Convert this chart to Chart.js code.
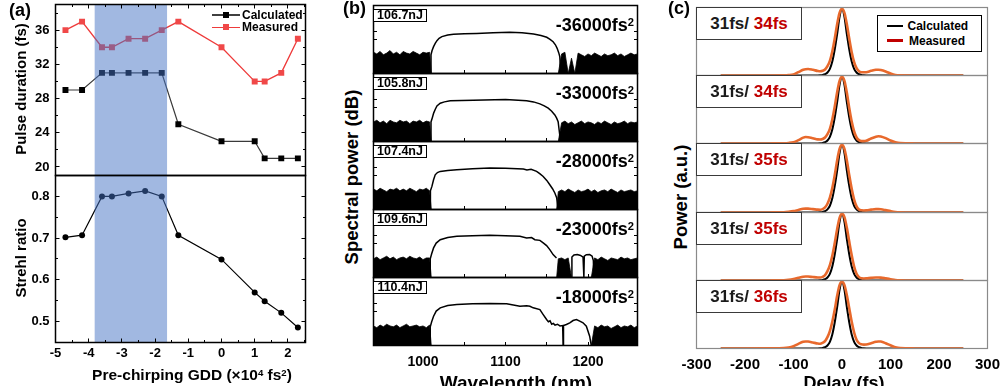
<!DOCTYPE html>
<html>
<head>
<meta charset="utf-8">
<script src="https://cdn.jsdelivr.net/npm/chart.js@4.4.1/dist/chart.umd.min.js"></script>
<style>
html,body{margin:0;padding:0;background:#fff;}
#fig{position:relative;width:1000px;height:386px;overflow:hidden;background:#fff;font-family:"Liberation Sans",Arial,sans-serif;font-weight:bold;color:#000;}
#fig canvas{position:absolute;}
.t{position:absolute;white-space:nowrap;line-height:1;}
.sup{position:relative;top:-0.45em;font-size:0.62em;}
.box{position:absolute;box-sizing:border-box;background:#fff;display:flex;align-items:center;justify-content:center;white-space:nowrap;line-height:1;}
.sw{position:absolute;}
</style>
</head>
<body>
<div id="fig"></div>
<script>
// ================= DATA =================
// ---- Panel (a): pulse duration & Strehl ratio vs pre-chirping GDD (x10^4 fs^2)
const gddValues          = [-4.7, -4.2, -3.6, -3.3, -2.8, -2.3, -1.8, -1.3, 0, 1.0, 1.3, 1.8, 2.3];
const calculatedDuration = [29, 29, 31, 31, 31, 31, 31, 25, 23, 23, 21, 21, 21];
const measuredDuration   = [36, 37, 34, 34, 35, 35, 36, 37, 34, 30, 30, 31, 35];
const strehlRatio        = [0.702, 0.707, 0.800, 0.800, 0.807, 0.813, 0.800, 0.707, 0.649, 0.570, 0.549, 0.521, 0.486];
const gddRange           = [-5, 2.53];
const gddTicks           = [-5, -4, -3, -2, -1, 0, 1, 2];
const gddMinorTicks      = [-4.5, -3.5, -2.5, -1.5, -0.5, 0.5, 1.5, 2.5];
const durationRange      = [19, 39];
const durationTicks      = [20, 24, 28, 32, 36];
const durationMinorTicks = [22, 26, 30, 34, 38];
const strehlRange        = [0.45, 0.85];
const strehlTicks        = [0.5, 0.6, 0.7, 0.8];
const strehlMinorTicks   = [0.55, 0.65, 0.75];
const optimalBand        = [-3.82, -1.64];

// ---- Panel (b): spectra (dB) vs wavelength (nm)
const wavelengthRange      = [940, 1260];
const wavelengthTicks      = [1000, 1100, 1200];
const wavelengthMinorTicks = [950, 1050, 1150, 1250];
const powerRangeDb         = [-80, 0];
const powerTicksDb         = [-40, -30];
const pulseEnergies        = ['106.7nJ', '105.8nJ', '107.4nJ', '109.6nJ', '110.4nJ'];
const gddLabels            = ['-36000', '-33000', '-28000', '-23000', '-18000'];
const noiseGridNm = [940,944,948,952,956,960,964,968,972,976,980,984,988,992,996,1000,1004,1008,1010,1162,1164,1168,1172,1176,1180,1184,1188,1192,1196,1200,1204,1208,1212,1216,1220,1224,1228,1232,1236,1240,1244,1248,1252,1256,1260];
const noise1 = [-55,-57,-54,-58,-56,-53,-57,-55,-58,-54,-56,-57,-54,-56,-58,-55,-56,-55,-80,-80,-80,-57,-55,-80,-62,-80,-56,-58,-60,-57,-59,-56,-58,-60,-57,-59,-58,-56,-59,-57,-60,-58,-56,-58,-57];
const noise2 = [-57,-55,-58,-56,-59,-55,-57,-58,-55,-57,-56,-59,-56,-57,-55,-58,-56,-57,-80,-80,-80,-58,-56,-59,-57,-60,-58,-56,-59,-57,-58,-60,-57,-59,-56,-58,-60,-57,-59,-58,-56,-59,-57,-58,-57];
const noise3 = [-56,-58,-55,-57,-59,-56,-57,-55,-58,-56,-58,-55,-57,-59,-56,-57,-55,-58,-80,-80,-59,-57,-59,-56,-58,-60,-57,-59,-58,-56,-59,-57,-60,-58,-57,-59,-56,-58,-60,-57,-59,-58,-57,-59,-58];
const noise4 = [-58,-56,-59,-57,-55,-58,-56,-59,-57,-56,-58,-55,-57,-58,-56,-59,-57,-57,-80,-80,-58,-57,-59,-57,-80,-80,-80,-80,-80,-80,-80,-57,-59,-56,-58,-60,-57,-58,-59,-56,-58,-57,-59,-58,-57];
const noise5 = [-57,-59,-56,-58,-55,-57,-58,-56,-59,-57,-55,-58,-57,-56,-58,-57,-59,-56,-80,-80,-80,-80,-80,-80,-80,-80,-80,-80,-80,-80,-80,-57,-59,-56,-58,-57,-60,-58,-56,-59,-57,-58,-56,-59,-57];
const spectrum1 = [[1009.7,-80],[1009.7,-58],[1011,-53],[1012.8,-48.4],[1014.8,-44.5],[1016.9,-41.4],[1019.5,-38.6],[1022.9,-36.6],[1030,-34.8],[1037,-33.8],[1050,-33.2],[1065,-32.8],[1085,-32.2],[1105,-31.5],[1120,-32.2],[1134,-33.6],[1143,-35.4],[1150,-37.4],[1154,-39.8],[1157.7,-42.6],[1160.5,-46.2],[1162.6,-50.4],[1164.5,-55.5],[1165.8,-60.2],[1167,-80]];
const spectrum2 = [[1009.7,-80],[1009.7,-57],[1011.3,-52],[1012.9,-46.6],[1014.9,-42],[1016.9,-38.1],[1020.9,-35],[1026,-33.4],[1033,-32],[1061,-31.4],[1100,-30.6],[1125.6,-32],[1134,-33.4],[1141.7,-35.7],[1147,-38],[1151.8,-40.8],[1156,-44.4],[1159.8,-48.8],[1162,-52.5],[1163.8,-56.8],[1166.7,-80]];
const spectrum3 = [[1009,-80],[1009,-58],[1010.8,-52.8],[1012.8,-45],[1014.8,-39.2],[1017.5,-36.5],[1020.9,-35.2],[1030,-34],[1041,-33.3],[1060,-32.2],[1081,-31.2],[1100,-31.4],[1121.6,-32.4],[1126,-33.5],[1131,-32.8],[1137.7,-35.2],[1141.5,-37.8],[1145.7,-41.1],[1150,-45.8],[1153.7,-50.9],[1157,-55.6],[1159.8,-60.6],[1162,-66],[1163.8,-80]];
const spectrum4 = [[1008.8,-80],[1008.8,-58],[1010.5,-52],[1012.8,-45.2],[1016,-39.5],[1020.9,-35.5],[1030,-33],[1041,-31.6],[1060,-30.8],[1081,-30.4],[1100,-30.8],[1117.5,-31.6],[1125.6,-33.5],[1131.6,-33],[1135.6,-35.5],[1141.7,-36.3],[1145.7,-39.3],[1149.8,-42.5],[1153.7,-47.2],[1157.7,-53.1],[1161.8,-57],[1163,null],[1180.5,-80],[1180.5,-56],[1183,-53.5],[1187,-53],[1191,-54],[1194,-56],[1195,-80],[1195.5,-55],[1198,-53.2],[1202,-53],[1205,-55],[1206.5,-60],[1207,-80]];
const spectrum5 = [[1008.8,-80],[1008.8,-58],[1010.5,-52],[1012.8,-45.6],[1016,-39.5],[1020.9,-35.7],[1030,-33],[1041,-31.8],[1060,-31],[1081.3,-30.7],[1101.4,-31],[1117.5,-33.8],[1125.6,-33.3],[1129.6,-33.8],[1133.6,-35.7],[1141.7,-37.7],[1145.7,-43.6],[1149.8,-49.4],[1152,-52],[1154,-51],[1156,-55],[1158,-54],[1160,-56],[1163,-55],[1166,-57],[1169.3,-56.5],[1169.8,-80],[1170.3,-56.5],[1173.8,-55.3],[1177.9,-53.3],[1181.9,-50.6],[1186,-49.4],[1190,-51.4],[1194,-53.3],[1198,-57.3],[1202,-69],[1204,-80]];
const noiseSets    = [noise1, noise2, noise3, noise4, noise5];
const spectrumSets = [spectrum1, spectrum2, spectrum3, spectrum4, spectrum5];

// ---- Panel (c): temporal pulse shapes vs delay (fs)
const delayRange = [-300, 300];
const delayTicks = [-300, -200, -100, 0, 100, 200, 300];
const delayFs = [-250,-200,-150,-120,-110,-100,-90,-80,-75,-70,-60,-50,-45,-40,-35,-30,-25,-20,-15,-10,-5,0,5,10,15,20,25,30,35,40,45,50,60,70,75,80,90,100,110,120,150,200,250];
const calculatedPulse = [0,0,0,0,0,0,0,0,0,0,0,0.001,0.003,0.008,0.02,0.045,0.1,0.21,0.39,0.62,0.88,1,0.88,0.62,0.39,0.21,0.1,0.045,0.02,0.008,0.003,0.001,0,0,0,0,0,0,0,0,0,0,0];
const measuredPulse1 = [0,0,0,0.002,0.006,0.016,0.05,0.085,0.095,0.097,0.085,0.068,0.063,0.07,0.09,0.14,0.22,0.36,0.55,0.77,0.94,1,0.94,0.77,0.55,0.35,0.2,0.11,0.065,0.05,0.048,0.05,0.07,0.086,0.087,0.082,0.06,0.03,0.008,0.002,0,0,0];
const measuredPulse2 = [0,0,0.001,0.003,0.008,0.02,0.05,0.088,0.097,0.095,0.08,0.062,0.06,0.068,0.09,0.14,0.22,0.36,0.55,0.77,0.94,1,0.94,0.76,0.53,0.33,0.18,0.09,0.05,0.036,0.035,0.04,0.075,0.102,0.108,0.105,0.08,0.045,0.018,0.005,0.001,0,0];
const measuredPulse3 = [0,0,0.001,0.004,0.01,0.02,0.038,0.055,0.058,0.057,0.05,0.042,0.04,0.05,0.075,0.13,0.22,0.36,0.55,0.77,0.94,1,0.94,0.77,0.55,0.35,0.19,0.09,0.045,0.032,0.03,0.032,0.042,0.05,0.05,0.048,0.035,0.02,0.008,0.003,0,0,0];
const measuredPulse4 = [0,0,0.001,0.004,0.01,0.022,0.04,0.057,0.06,0.059,0.052,0.046,0.045,0.055,0.08,0.14,0.23,0.37,0.56,0.77,0.94,1,0.95,0.79,0.58,0.38,0.21,0.1,0.05,0.033,0.03,0.032,0.04,0.045,0.045,0.043,0.032,0.02,0.008,0.003,0,0,0];
const measuredPulse5 = [0,0,0.002,0.006,0.015,0.035,0.07,0.1,0.106,0.104,0.09,0.075,0.072,0.085,0.11,0.17,0.26,0.4,0.58,0.79,0.95,1,0.95,0.8,0.6,0.4,0.24,0.13,0.08,0.062,0.058,0.06,0.08,0.1,0.106,0.104,0.08,0.048,0.02,0.006,0.001,0,0];
const measuredPulseSets = [measuredPulse1, measuredPulse2, measuredPulse3, measuredPulse4, measuredPulse5];
const calculatedFs = [31, 31, 31, 31, 31];
const measuredFs   = [34, 34, 35, 35, 36];

// ================= RENDERING =================
const FONT = '"Liberation Sans", Arial, Helvetica, sans-serif';
Chart.defaults.font.family = FONT;
Chart.defaults.font.weight = 'bold';
Chart.defaults.color = '#000';
const fig = document.getElementById('fig');

function makeCanvas(l, t, w, h) {
  const c = document.createElement('canvas');
  c.width = w; c.height = h;
  c.style.left = l + 'px'; c.style.top = t + 'px';
  c.style.width = w + 'px'; c.style.height = h + 'px';
  fig.appendChild(c);
  return c;
}
const crisp = p => Math.round(p - 0.5) + 0.5;

function framePlugin(cfg) {
  return {
    id: 'frameTicks',
    afterDatasetsDraw(chart) {
      const ctx = chart.ctx, a = chart.chartArea, xs = chart.scales.x, ys = chart.scales.y;
      ctx.save();
      if (cfg.band) {
        const x1 = xs.getPixelForValue(cfg.band[0]), x2 = xs.getPixelForValue(cfg.band[1]);
        ctx.fillStyle = cfg.bandColor;
        ctx.fillRect(x1, a.top, x2 - x1, a.bottom - a.top);
      }
      ctx.strokeStyle = cfg.color;
      ctx.lineWidth = cfg.tickWidth || 1;
      const seg = (x1, y1, x2, y2) => { ctx.beginPath(); ctx.moveTo(x1, y1); ctx.lineTo(x2, y2); ctx.stroke(); };
      const xt = (vals, len) => (vals || []).forEach(v => {
        const p = crisp(xs.getPixelForValue(v));
        if ((cfg.xSides || []).includes('bottom')) seg(p, a.bottom, p, a.bottom - len);
        if ((cfg.xSides || []).includes('top')) seg(p, a.top, p, a.top + len);
      });
      const yt = (vals, len) => (vals || []).forEach(v => {
        const p = crisp(ys.getPixelForValue(v));
        if ((cfg.ySides || []).includes('left')) seg(a.left, p, a.left + len, p);
        if ((cfg.ySides || []).includes('right')) seg(a.right, p, a.right - len, p);
      });
      xt(cfg.xMajor, cfg.majorLen || 4); xt(cfg.xMinor, cfg.minorLen || 2.5);
      yt(cfg.yMajor, cfg.majorLen || 4); yt(cfg.yMinor, cfg.minorLen || 2.5);
      ctx.lineWidth = cfg.width;
      ctx.strokeRect(a.left, a.top, a.right - a.left, a.bottom - a.top);
      ctx.restore();
    }
  };
}

function hiddenAxis(range) { return { type: 'linear', min: range[0], max: range[1], display: false }; }
function labeledAxis(range, ticks, size, padding, sizePx, isX, fmt) {
  return {
    type: 'linear', min: range[0], max: range[1], display: true,
    afterBuildTicks: s => { s.ticks = ticks.map(v => ({ value: v })); },
    afterFit: s => {
      if (isX) s.height = sizePx; else s.width = sizePx;
      s.paddingLeft = 0; s.paddingRight = 0; s.paddingTop = 0; s.paddingBottom = 0;
    },
    grid: { display: false, drawTicks: false }, border: { display: false },
    ticks: { padding, autoSkip: false, maxRotation: 0, minRotation: 0, color: '#000',
             font: { family: FONT, size, weight: 'bold' }, callback: v => fmt(v) }
  };
}

function makeChart(box, area, scales, datasets, frameCfg, axisW, axisH) {
  const cv = makeCanvas(box.l, box.t, box.w, box.h);
  const padding = {
    left: area.l - box.l - (axisW || 0),
    right: box.l + box.w - area.r,
    top: area.t - box.t,
    bottom: box.t + box.h - area.b - (axisH || 0)
  };
  return new Chart(cv, {
    type: 'line',
    data: { datasets },
    options: {
      responsive: false, maintainAspectRatio: false, animation: false, devicePixelRatio: 1,
      layout: { padding },
      plugins: { legend: { display: false }, tooltip: { enabled: false }, title: { display: false } },
      elements: { point: { radius: 0 } },
      scales
    },
    plugins: [framePlugin(frameCfg)]
  });
}

// ---------- Panel (a) ----------
const bandColor = 'rgba(68,114,196,0.5)';
makeChart({ l: 0, t: 0, w: 320, h: 180 }, { l: 55.5, r: 305.5, t: 4.5, b: 175.5 }, {
  x: hiddenAxis(gddRange),
  y: labeledAxis(durationRange, durationTicks, 13, 6, 50, false, v => String(v))
}, [
  { data: gddValues.map((x, i) => ({ x, y: measuredDuration[i] })), borderColor: '#ee3b3b', borderWidth: 1.3,
    pointStyle: 'rect', pointRadius: 4.2, pointBackgroundColor: '#f04848', pointBorderColor: '#f04848', pointBorderWidth: 0, tension: 0 },
  { data: gddValues.map((x, i) => ({ x, y: calculatedDuration[i] })), borderColor: '#3a3a3a', borderWidth: 1.2,
    pointStyle: 'rect', pointRadius: 4.2, pointBackgroundColor: '#000', pointBorderColor: '#000', pointBorderWidth: 0, tension: 0 }
], { color: '#000', width: 1.5, band: optimalBand, bandColor, xSides: ['top'], ySides: ['left', 'right'],
     xMajor: gddTicks, xMinor: gddMinorTicks, yMajor: durationTicks, yMinor: durationMinorTicks, majorLen: 4, minorLen: 2.5 }, 50, 0);

makeChart({ l: 0, t: 170, w: 320, h: 216 }, { l: 55.5, r: 305.5, t: 175.5, b: 342.5 }, {
  x: labeledAxis(gddRange, gddTicks, 13, 3, 30, true, v => String(v)),
  y: labeledAxis(strehlRange, strehlTicks, 13, 6, 50, false, v => v.toFixed(1))
}, [
  { data: gddValues.map((x, i) => ({ x, y: strehlRatio[i] })), borderColor: '#000', borderWidth: 1.2,
    pointStyle: 'circle', pointRadius: 3, pointBackgroundColor: '#000', pointBorderColor: '#000', pointBorderWidth: 0, tension: 0 }
], { color: '#000', width: 1.5, band: optimalBand, bandColor, xSides: ['bottom'], ySides: ['left', 'right'],
     xMajor: gddTicks, xMinor: gddMinorTicks, yMajor: strehlTicks, yMinor: strehlMinorTicks, majorLen: 4, minorLen: 2.5 }, 50, 30);

// ---------- Panel (b) ----------
const bTops = [5.5, 73.5, 141.5, 209.5, 277.5], bBottom = 345.5;
for (let k = 0; k < 5; k++) {
  const top = bTops[k], bot = k < 4 ? bTops[k + 1] : bBottom;
  const last = k === 4;
  const box = last ? { l: 370, t: 274, w: 272, h: 112 } : { l: 370, t: top - 3.5, w: 272, h: bot - top + 7 };
  const datasets = [
    { data: spectrumSets[k].map(p => ({ x: p[0], y: p[1] })), borderColor: '#000', borderWidth: 1.5, fill: false, tension: 0, spanGaps: false },
    { data: noiseGridNm.map((x, i) => ({ x, y: noiseSets[k][i] })), borderColor: '#000', borderWidth: 0.8, backgroundColor: '#000', fill: 'start', tension: 0 }
  ];
  makeChart(box, { l: 373.5, r: 637.5, t: top, b: bot }, {
    x: last ? labeledAxis(wavelengthRange, wavelengthTicks, 14, 7.8, 30, true, v => String(v)) : hiddenAxis(wavelengthRange),
    y: hiddenAxis(powerRangeDb)
  }, datasets, { color: '#000', width: 1.5, xSides: ['bottom'], ySides: ['left', 'right'],
                 xMajor: wavelengthTicks, xMinor: wavelengthMinorTicks, yMajor: powerTicksDb, majorLen: 3.5, minorLen: 3.5 }, 0, last ? 30 : 0);
}

// ---------- Panel (c) ----------
const cTops = [7.5, 75.5, 143.5, 212.5, 280.5], cBottom = 348.5;
for (let k = 0; k < 5; k++) {
  const top = cTops[k], bot = k < 4 ? cTops[k + 1] : cBottom;
  const last = k === 4;
  const box = last ? { l: 670, t: 277, w: 330, h: 109 } : { l: 693, t: top - 3.5, w: 298, h: bot - top + 7 };
  const datasets = [
    { data: delayFs.map((x, i) => ({ x, y: measuredPulseSets[k][i] })), borderColor: '#e8692c', borderWidth: 2.6, cubicInterpolationMode: 'monotone', fill: false },
    { data: delayFs.map((x, i) => ({ x, y: calculatedPulse[i] })), borderColor: '#000', borderWidth: 2, cubicInterpolationMode: 'monotone', fill: false }
  ];
  makeChart(box, { l: 696.5, r: 987.5, t: top, b: bot }, {
    x: last ? labeledAxis(delayRange, delayTicks, 15, 7.5, 30, true, v => String(v)) : hiddenAxis(delayRange),
    y: hiddenAxis([0, 1.02])
  }, datasets, { color: '#8a8a8a', width: 1.2 }, 0, last ? 30 : 0);
}

// ================= TEXT =================
function addText(html, x, y, size, anchor, rotate) {
  const d = document.createElement('div');
  d.className = 't';
  d.innerHTML = html;
  d.style.left = x + 'px'; d.style.top = y + 'px'; d.style.fontSize = size + 'px';
  const tx = anchor === 'left' ? '0' : anchor === 'right' ? '-100%' : '-50%';
  d.style.transform = `translate(${tx},-50%)` + (rotate ? ' rotate(-90deg)' : '');
  fig.appendChild(d);
  return d;
}
function swatch(x, y, w, h, color) {
  const d = document.createElement('div');
  d.className = 'sw';
  Object.assign(d.style, { left: x + 'px', top: y + 'px', width: w + 'px', height: h + 'px', background: color });
  fig.appendChild(d);
}
function box(x, y, w, h, border, html, size) {
  const d = document.createElement('div');
  d.className = 'box';
  Object.assign(d.style, { left: x + 'px', top: y + 'px', width: w + 'px', height: h + 'px', border, fontSize: size + 'px' });
  d.innerHTML = html;
  fig.appendChild(d);
}

// panel labels
addText('(a)', 9, 9.5, 18, 'left');
addText('(b)', 343, 8, 18, 'left');
addText('(c)', 668, 8, 18, 'left');

// panel (a) titles & legend
addText('Pulse duration (fs)', 20, 89, 15, 'center', true);
addText('Strehl ratio', 20, 258, 15, 'center', true);
addText('Pre-chirping GDD (×10<span class="sup">4</span> fs<span class="sup">2</span>)', 192, 375, 15.5, 'center');
swatch(211.7, 14.4, 28.3, 1.3, '#404040'); swatch(222.7, 12, 6, 6, '#000');
addText('Calculated', 242, 15, 12, 'left');
swatch(211.7, 26.7, 28.3, 1.3, '#ee3b3b'); swatch(222.7, 24.3, 6, 6, '#f04848');
addText('Measured', 242, 27.3, 12, 'left');

// panel (b) titles & labels
addText('Spectral power (dB)', 352, 177, 18.5, 'center', true);
addText('Wavelength (nm)', 516, 382, 19, 'center');
for (let k = 0; k < 5; k++) {
  box(373, bTops[k] + 3, 54, 13.5, '1.2px solid #000', pulseEnergies[k], 12.5);
  addText(gddLabels[k] + 'fs<span class="sup">2</span>', 634, bTops[k] + 19.5, 18, 'right');
}

// panel (c) titles & labels
addText('Power (a.u.)', 681, 197, 18.5, 'center', true);
addText('Delay (fs)', 844, 383, 18, 'center');
for (let k = 0; k < 5; k++) {
  box(696, cTops[k] - 0.5, 106, 32.5, '1.3px solid #3a3a3a',
      `<span style="color:#1a1a1a">${calculatedFs[k]}fs/&nbsp;</span><span style="color:#c00000">${measuredFs[k]}fs</span>`, 17);
}
box(877, 15, 105, 37, '1px solid #000', '', 12);
swatch(886.7, 24.8, 16, 2.6, '#000'); addText('Calculated', 907.5, 26, 12, 'left');
swatch(886.7, 39.4, 16, 2.6, '#c00000'); addText('Measured', 909, 40.6, 12, 'left');
</script>
</body>
</html>
